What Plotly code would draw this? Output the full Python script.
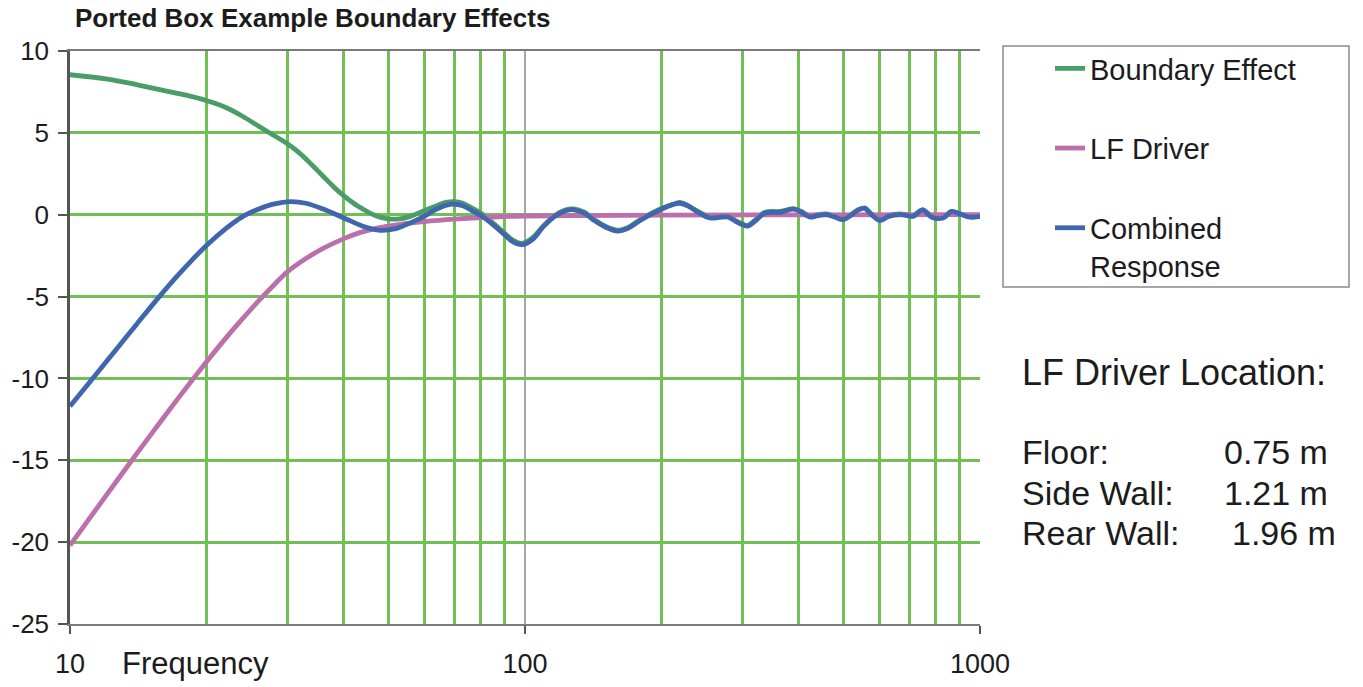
import plotly.graph_objects as go

# frequency response data (Hz, dB)
boundary_freq = [10, 12, 14, 16, 18, 20, 22, 24, 26, 28, 30, 32, 34, 36, 38, 40, 42, 44, 46, 48,
                 50, 53, 56, 60, 64, 67, 70, 73, 76, 80, 85, 90, 94, 98.5, 104, 110, 117, 123,
                 128, 135, 142, 150, 160, 168, 178, 190, 200, 210, 219, 228, 240, 255, 270, 280,
                 290, 300, 309, 320, 337, 363, 389, 405, 423, 440, 460, 480, 500, 520, 540, 558,
                 575, 603, 630, 667, 690, 713, 748, 783, 830, 866, 903, 950, 1000]
boundary_db = [8.55, 8.3, 7.95, 7.6, 7.3, 6.96, 6.55, 6.0, 5.4, 4.85, 4.35, 3.75, 3.05, 2.35,
               1.7, 1.15, 0.7, 0.35, 0.05, -0.15, -0.25, -0.25, -0.1, 0.25, 0.55, 0.75, 0.8,
               0.7, 0.45, 0.1, -0.5, -1.1, -1.55, -1.75, -1.4, -0.65, 0.0, 0.3, 0.35, 0.15,
               -0.3, -0.7, -0.95, -0.8, -0.35, 0.1, 0.4, 0.6, 0.75, 0.55, 0.2, -0.15, -0.1,
               -0.1, -0.35, -0.55, -0.65, -0.35, 0.15, 0.2, 0.35, 0.2, -0.1, 0.0, 0.05, -0.1,
               -0.25, 0.0, 0.3, 0.4, 0.1, -0.3, -0.05, 0.05, 0.0, -0.05, 0.3, -0.1, -0.15, 0.2,
               0.05, -0.1, -0.1]

driver_freq = [10, 11, 12, 13.5, 15, 17, 18.6, 20, 22, 23.5, 26, 28, 30, 33, 36, 40, 43.5, 47,
               50, 55, 60, 70, 80, 90, 100, 130, 200, 400, 1000]
driver_db = [-20.2, -18.61, -17.16, -15.21, -13.49, -11.48, -10.07, -8.95, -7.54, -6.61, -5.25,
             -4.32, -3.51, -2.68, -2.06, -1.46, -1.08, -0.83, -0.7, -0.53, -0.42, -0.27, -0.17,
             -0.11, -0.08, -0.05, -0.03, -0.01, 0.0]

combined_freq = [10, 11, 12, 13, 14, 15.5, 17, 18.5, 20, 22, 24, 26, 28, 30.5, 33, 36, 40, 44,
                 48, 52, 56, 60, 64, 69, 73, 77, 80, 85, 90, 94, 98.5, 104, 110, 117, 123, 128,
                 135, 142, 150, 160, 168, 178, 190, 200, 210, 219, 228, 240, 255, 270, 280, 290,
                 300, 309, 320, 337, 363, 389, 405, 423, 440, 460, 480, 500, 520, 540, 558, 575,
                 603, 630, 667, 690, 713, 748, 783, 830, 866, 903, 950, 1000]
combined_db = [-11.7, -10.3, -9.0, -7.8, -6.7, -5.2, -3.9, -2.8, -1.85, -0.85, -0.1, 0.35,
               0.65, 0.8, 0.7, 0.35, -0.2, -0.7, -0.95, -0.85, -0.5, -0.1, 0.35, 0.65, 0.55,
               0.2, -0.05, -0.6, -1.2, -1.65, -1.83, -1.5, -0.7, -0.05, 0.25, 0.3, 0.1, -0.35,
               -0.75, -1.0, -0.85, -0.4, 0.05, 0.35, 0.6, 0.7, 0.55, 0.15, -0.2, -0.15, -0.15,
               -0.4, -0.6, -0.7, -0.4, 0.1, 0.15, 0.35, 0.15, -0.15, -0.05, 0.0, -0.15, -0.3,
               -0.05, 0.3, 0.4, 0.05, -0.35, -0.1, 0.0, -0.05, -0.1, 0.3, -0.15, -0.2, 0.2,
               0.05, -0.15, -0.1]

y_ticks = [-25, -20, -15, -10, -5, 0, 5, 10]
y_labels = ["-25", "-20", "-15", "-10", "-5", "0", "5", "10"]
x_ticks = [10, 100, 1000]
x_labels = ["10", "100", "1000"]
x_minor = [20, 30, 40, 50, 60, 70, 80, 90, 200, 300, 400, 500, 600, 700, 800, 900]

series = [
    ("Boundary Effect", boundary_freq, boundary_db, "#4a9d66"),
    ("LF Driver", driver_freq, driver_db, "#bb6fab"),
    ("Combined<br>Response", combined_freq, combined_db, "#4066ae"),
]

# page body adds an 8px offset; lay out in reference pixels
OFF = 8
W, H = 1363 - OFF, 687 - OFF
X0, X1, Y0, Y1 = 70, 980, 51, 624          # plot area in reference pixels
ML, MT = X0 - OFF, Y0 - OFF
MR, MB = W - (X1 - OFF), H - (Y1 - OFF)
PW, PH = X1 - X0, Y1 - Y0
FONT = "Arial, Liberation Sans, sans-serif"
INK = "#1c1c1c"


def px(x):
    return (x - X0) / PW


def py(y):
    return (Y1 - y) / PH


fig = go.Figure()
for i, (name, f, db, color) in enumerate(series):
    fig.add_trace(go.Scatter(
        x=f, y=db, name=name, mode="lines",
        line=dict(color=color, width=4.8, shape="spline", smoothing=1.0),
        legendgroup=f"g{i}",
    ))

fig.update_xaxes(
    type="log", range=[1, 3],
    tickvals=x_ticks, ticktext=x_labels,
    showgrid=True, gridcolor="#a6a6a6", gridwidth=1.5,
    minor=dict(tickvals=x_minor, showgrid=True, gridcolor="#72c055", gridwidth=2.5,
               ticks=""),
    showline=True, linecolor="#7a7a7a", linewidth=2, mirror=True,
    ticks="outside", ticklen=8, tickcolor="#555", tickwidth=1.5,
    tickfont=dict(family=FONT, size=27, color=INK),
    ticklabelstandoff=7,
    zeroline=False, automargin=False,
)
fig.update_yaxes(
    range=[-25, 10], tickvals=y_ticks, ticktext=y_labels,
    showgrid=True, gridcolor="#72c055", gridwidth=2.5,
    showline=True, linecolor="#555", linewidth=2.5,
    ticks="outside", ticklen=9, tickcolor="#555", tickwidth=1.5,
    tickfont=dict(family=FONT, size=26, color=INK),
    ticklabelstandoff=4,
    zeroline=False, automargin=False,
)

# legend frame
fig.add_shape(type="rect", xref="paper", yref="paper",
              x0=px(1003), x1=px(1349), y0=py(287), y1=py(46),
              line=dict(color="#8a8a8a", width=1.5), fillcolor="rgba(0,0,0,0)")

notes = [
    ("LF Driver Location:", 1020, 372, 36),
    ("Floor:", 1020, 452, 34),
    ("0.75 m", 1222, 452, 34),
    ("Side Wall:", 1020, 493, 34),
    ("1.21 m", 1222, 493, 34),
    ("Rear Wall:", 1020, 533, 34),
    ("1.96 m", 1230, 533, 34),
]
for text, x, y, size in notes:
    fig.add_annotation(text=text, xref="paper", yref="paper", x=px(x), y=py(y),
                       xanchor="left", yanchor="middle", showarrow=False,
                       font=dict(family=FONT, size=size, color=INK))

fig.add_annotation(text="Frequency", xref="paper", yref="paper", x=px(195), y=py(663),
                   xanchor="center", yanchor="middle", showarrow=False,
                   font=dict(family=FONT, size=31, color=INK))

fig.update_layout(
    width=W, height=H, autosize=False,
    margin=dict(l=ML, r=MR, t=MT, b=MB),
    paper_bgcolor="white", plot_bgcolor="white",
    title=dict(text="<b>Ported Box Example Boundary Effects</b>",
               xref="container", yref="container", x=(75 - OFF) / W, y=1,
               xanchor="left", yanchor="top", pad=dict(t=1),
               font=dict(family=FONT, size=26, color=INK)),
    showlegend=True,
    legend=dict(x=px(1050), y=py(43), xanchor="left", yanchor="top",
                font=dict(family=FONT, size=29, color=INK),
                bgcolor="rgba(0,0,0,0)", borderwidth=0,
                traceorder="grouped", tracegroupgap=39, valign="top"),
)

fig.write_html("out.html")
